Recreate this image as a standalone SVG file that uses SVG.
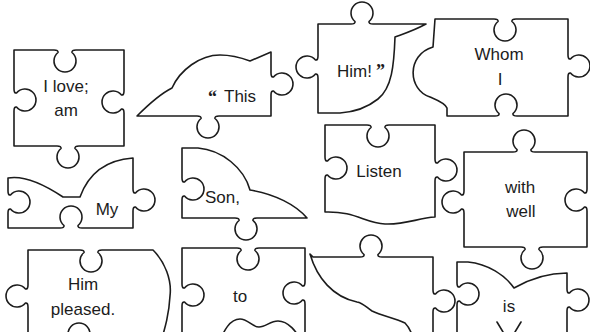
<svg xmlns="http://www.w3.org/2000/svg" width="590" height="332" viewBox="0 0 590 332">
<style>
.pc{fill:#fff;stroke:#1c1c1c;stroke-width:1.6;stroke-linejoin:round;stroke-linecap:round}
.ln{fill:none;stroke:#1c1c1c;stroke-width:1.6;stroke-linecap:round}
.t{font-family:"Liberation Sans",Arial,sans-serif;font-size:17px;fill:#1c1c1c;text-anchor:middle}
.s{text-anchor:start}
.q{font-family:"Liberation Serif","Times New Roman",serif;font-weight:bold;font-size:18px;fill:#1c1c1c}
</style>
<rect width="590" height="332" fill="#fff"/>
<g id="piece-ilove">
<path class="pc" d="M14,50 L54,50 Q58.5,50 58,52.5 A11 11 0 1 0 72,52.5 Q71.5,50 76,50 L124,50 L124,91 Q124,95.5 121.5,95 A11 11 0 1 0 121.5,109 Q124,108.5 124,113 L124,146 L79,146 Q74.5,146 75,148.5 A11 11 0 1 1 61,148.5 Q61.5,146 57,146 L14,146 L14,111 Q14,106.5 16.5,107 A11 11 0 1 0 16.5,93 Q14,93.5 14,89 Z"/>
<text class="t" x="66" y="92">I love;</text>
<text class="t" x="66" y="116">am</text>
</g>
<g id="piece-this">
<path class="pc" d="M137,116 C150,103 160,94 172,88 C180,70 200,55 220,55 C232,55 242,58 250,61 L271,52 L271,73 Q271,77.5 273.5,77 A11 11 0 1 1 273.5,91 Q271,90.5 271,95 L271,116 L219,116 Q214.5,116 215,118.5 A11 11 0 1 1 201,118.5 Q201.5,116 197,116 Z"/>
<text class="q" x="208" y="103">“</text>
<text class="t s" x="224" y="102">This</text>
</g>
<g id="piece-him">
<path class="pc" d="M318,24 L351,24 Q355.5,24 355,21.5 A11 11 0 1 1 369,21.5 Q368.5,24 373,24 L426,24 C413,31 403,34 395,37 C394,65 392,88 378,99 C368,107 355,112 340,113 L318,113 L318,78 Q318,73.5 315.5,74 A11 11 0 1 1 315.5,60 Q318,60.5 318,56 Z"/>
<text class="t s" x="337" y="77">Him!</text>
<text class="q" x="376" y="77">”</text>
</g>
<g id="piece-whom">
<path class="pc" d="M435,19 L494,19 Q498.5,19 498,21.5 A11 11 0 1 0 512,21.5 Q511.5,19 516,19 L568,19 L568,55 Q568,59.5 570.5,59 A11 11 0 1 1 570.5,73 Q568,72.5 568,77 L568,116 L517,116 Q512.5,116 513,113.5 A11 11 0 1 0 499,113.5 Q499.5,116 495,116 L447,116 L447,108 C445,103 437,100 430,97 C408,90 406,55 433,47 Z"/>
<text class="t" x="499" y="60">Whom</text>
<text class="t" x="500" y="85">I</text>
</g>
<g id="piece-my">
<path class="pc" d="M8,178 C25,175 45,185 63,197 L80,197 C88,175 105,160 133,158 L133,189 Q133,193.5 135.5,193 A11 11 0 1 1 135.5,207 Q133,206.5 133,211 L133,228 L82,228 Q77.5,228 78,225.5 A11 11 0 1 0 64,225.5 Q64.5,228 60,228 L8,228 L8,213 Q8,208.5 10.5,209 A11 11 0 1 0 10.5,195 Q8,195.5 8,191 Z"/>
<text class="t" x="107" y="215">My</text>
</g>
<g id="piece-son">
<path class="pc" d="M182,148 L198,148 C222,150 244,168 250,190 C275,194 296,205 307,218 L257,218 Q252.5,218 253,220.5 A11 11 0 1 1 239,220.5 Q239.5,218 235,218 L182,218 L182,200 Q182,195.5 184.5,196 A11 11 0 1 0 184.5,182 Q182,182.5 182,178 Z"/>
<text class="t s" x="205" y="203">Son,</text>
</g>
<g id="piece-listen">
<path class="pc" d="M325,125 L367,125 Q371.5,125 371,127.5 A11 11 0 1 0 385,127.5 Q384.5,125 389,125 L435,125 L435,159 Q435,163.5 437.5,163 A11 11 0 1 1 437.5,177 Q435,176.5 435,181 L435,217 C418,218 405,225 385,224 C365,223 355,211 325,212 L325,179 Q325,174.5 327.5,175 A11 11 0 1 0 327.5,161 Q325,161.5 325,157 Z"/>
<text class="t" x="379" y="177">Listen</text>
</g>
<g id="piece-with">
<path class="pc" d="M464,152 L513,152 Q517.5,152 517,149.5 A11 11 0 1 1 531,149.5 Q530.5,152 535,152 L587,152 L587,189 Q587,193.5 584.5,193 A11 11 0 1 0 584.5,207 Q587,206.5 587,211 L587,247 L543,247 Q538.5,247 539,249.5 A11 11 0 1 1 525,249.5 Q525.5,247 521,247 L464,247 L464,213 Q464,208.5 461.5,209 A11 11 0 1 1 461.5,195 Q464,195.5 464,191 Z"/>
<text class="t" x="520" y="193">with</text>
<text class="t" x="521" y="217">well</text>
</g>
<g id="piece-pleased">
<path class="pc" d="M28,250 L80,250 Q84.5,250 84,252.5 A11 11 0 1 0 98,252.5 Q97.5,250 102,250 L153,250 C165,262 172,280 170,296 C169,315 165,328 160,345 L90,345 Q85.5,345 86,342.5 A11 11 0 1 0 72,342.5 Q72.5,345 68,345 L28,345 L28,307 Q28,302.5 25.5,303 A11 11 0 1 1 25.5,289 Q28,289.5 28,285 Z"/>
<text class="t" x="83" y="290">Him</text>
<text class="t" x="83" y="315">pleased.</text>
</g>
<g id="piece-to">
<path class="pc" d="M182,248 L237,248 Q241.5,248 241,250.5 A11 11 0 1 0 255,250.5 Q254.5,248 259,248 L305,248 L305,282 Q305,286.5 302.5,286 A11 11 0 1 0 302.5,300 Q305,299.5 305,304 L305,345 C298,335 290,321 278,321 C270,321 266,327 259,327 C252,327 248,319 240,319 C230,319 224,330 218,345 L182,345 L182,306 Q182,301.5 184.5,302 A11 11 0 1 0 184.5,288 Q182,288.5 182,284 Z"/>
<text class="t" x="240" y="302">to</text>
</g>
<g id="piece-blank">
<path class="pc" d="M310,254 L313,257 L360,257 Q364.5,257 364,254.5 A11 11 0 1 1 378,254.5 Q377.5,257 382,257 L433,257 L433,290 Q433,294.5 435.5,294 A11 11 0 1 1 435.5,308 Q433,307.5 433,312 L433,345 L415,345 C413,336 410,328 405,323 C395,318 382,316 372,311 C366,307 363,303 357,302 C333,297 317,278 310,254 Z"/>
</g>
<g id="piece-is">
<path class="pc" d="M457,262 L468,262 C488,264 505,275 514,288 C528,280 548,273 567,273 L567,289 Q567,293.5 569.5,293 A11 11 0 1 1 569.5,307 Q567,306.5 567,311 L567,345 L457,345 L457,305 Q457,300.5 459.5,301 A11 11 0 1 0 459.5,287 Q457,287.5 457,283 Z"/>
<path class="ln" d="M497,322 L503,332 M521,322 L515,332"/>
<text class="t" x="509" y="312">is</text>
</g>
</svg>
